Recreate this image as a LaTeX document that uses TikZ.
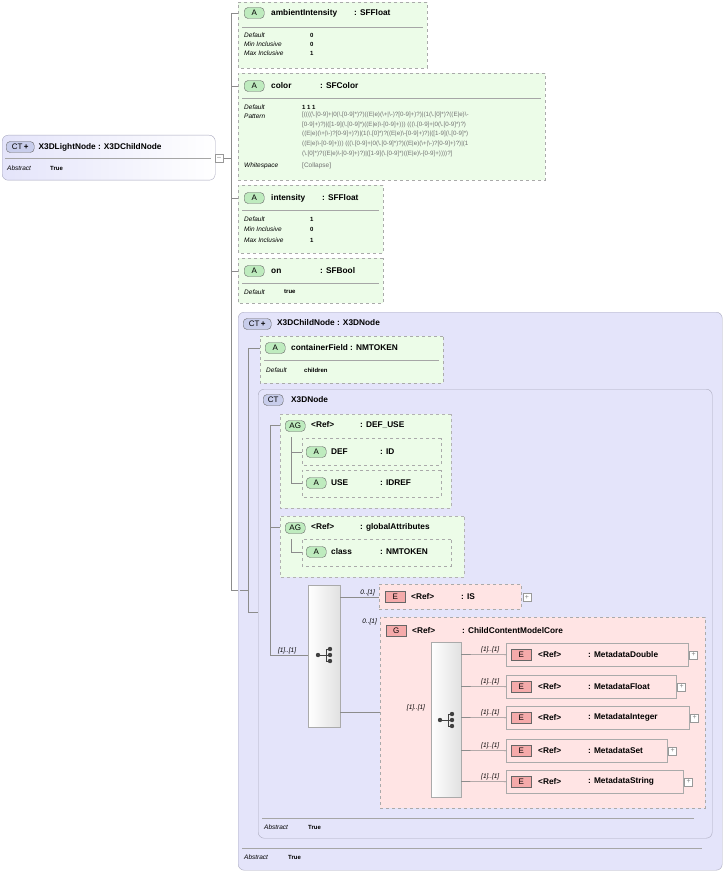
\documentclass[tikz,border=0pt]{standalone}
\usepackage{fontspec}
\setmainfont{Liberation Sans}
\usetikzlibrary{shapes.misc,positioning}
\definecolor{attrfill}{RGB}{236,252,232}
\definecolor{attrdraw}{RGB}{170,170,170}
\definecolor{ctfill}{RGB}{228,228,250}
\definecolor{ctdraw}{RGB}{170,170,190}
\definecolor{elfill}{RGB}{255,228,228}
\definecolor{bgreen}{RGB}{190,235,190}
\definecolor{bred}{RGB}{245,170,170}
\definecolor{bblue}{RGB}{200,205,235}
\definecolor{seqfill}{RGB}{225,225,225}
\tikzset{
  attrbox/.style={chamfered rectangle, chamfered rectangle corners={north west,south west},
    chamfered rectangle xsep=6pt, draw=attrdraw, dashed, fill=attrfill, anchor=north west, inner sep=0pt},
  ctbox/.style={rectangle, rounded corners=6pt, draw=ctdraw, fill=ctfill, anchor=north west, inner sep=0pt},
  elbox/.style={rectangle, draw=attrdraw, fill=elfill, anchor=north west, inner sep=0pt},
  seqbox/.style={rectangle, draw=attrdraw, left color=white, right color=seqfill, anchor=north west, inner sep=0pt},
  badge/.style={rectangle, rounded corners=4pt, draw=black!60, anchor=west, inner sep=1pt,
    minimum height=11pt, minimum width=20pt, font=\fontsize{8}{8}\selectfont},
  title/.style={anchor=west, inner sep=0pt, font=\bfseries\fontsize{8.3}{9}\selectfont},
  key/.style={anchor=west, inner sep=0pt, font=\itshape\fontsize{6.5}{7}\selectfont},
  val/.style={anchor=west, inner sep=0pt, font=\bfseries\fontsize{6}{6}\selectfont},
  card/.style={anchor=south, inner sep=1pt, font=\itshape\fontsize{6.5}{7}\selectfont},
  plusbox/.style={rectangle, draw=black!40, fill=white, minimum size=8pt, inner sep=0pt,
    font=\fontsize{7}{7}\selectfont, text=black!50},
  link/.style={draw=black!45, line width=0.6pt},
  seqicon/.pic={
    \fill[black!75] (-8,0) circle (2.2pt) (4,-6) circle (2.2pt) (4,0) circle (2.2pt) (4,6) circle (2.2pt);
    \draw[black!75, line width=0.8pt] (-8,0) -- (0,0) (0,-6) -- (0,6) (0,-6) -- (4,-6) (0,6) -- (4,6) (0,0) -- (4,0);
  },
}
\begin{document}
\begin{tikzpicture}[x=1pt, y=-1pt]
\useasboundingbox (0,0) rectangle (726,874);

% outer tree
\draw[link] (231,13) -- (231,590);
\foreach \yy in {13,86,198,271} \draw[link] (231,\yy) -- (238,\yy);
\draw[link] (224,158) -- (231,158);
\draw[link] (231,590) -- (240,590);

% root complex type
\node[ctbox, minimum width=213pt, minimum height=45pt, left color=ctfill, right color=white] (root) at (2,135) {};
\node[badge, fill=bblue, minimum width=28pt] (rootbadge) at (6,147) {CT\,\textbf{+}};
\node[title, right=4pt of rootbadge] (roottitle) {X3DLightNode : X3DChildNode};
\draw[black!35] (5,158) -- (211,158);
\node[key] (rootabs) at (7,168) {Abstract};
\node[val] (rootabsv) at (50,168) {True};
\node[plusbox] (rootminus) at (219,158) {--};

% attribute ambientIntensity
\node[attrbox, minimum width=189pt, minimum height=66pt] (amb) at (238,2) {};
\node[badge, fill=bgreen] (ambbadge) at (244,13) {A};
\node[title] (ambname) at (271,13) {ambientIntensity};
\node[title] (ambtype) at (354,13) {: SFFloat};
\draw[black!35] (242,27) -- (423,27);
\node[key] at (244,35) {Default};
\node[key] at (244,44) {Min Inclusive};
\node[key] at (244,53) {Max Inclusive};
\node[val] at (310,35) {0};
\node[val] at (310,44) {0};
\node[val] at (310,53) {1};

% attribute color
\node[attrbox, minimum width=307pt, minimum height=107pt] (col) at (238,73) {};
\node[badge, fill=bgreen] (colbadge) at (244,86) {A};
\node[title] (colname) at (271,86) {color};
\node[title] (coltype) at (320,86) {: SFColor};
\draw[black!35] (242,98) -- (541,98);
\node[key] at (244,107) {Default};
\node[key] at (244,116) {Pattern};
\node[key] at (244,166) {Whitespace};
\node[val] at (302,107) {1 1 1};
\node[anchor=north west, inner sep=0pt, text=black!55, font=\fontsize{6.2}{9.6}\selectfont, align=left] (colpat) at (302,112)
  {\detokenize{[((((\.[0-9]+|0(\.[0-9]*)?)((E|e)(\+|\-)?[0-9]+)?)|(1(\.[0]*)?((E|e)\-}\\
   \detokenize{[0-9]+)?)|([1-9](\.[0-9]*)((E|e)\-[0-9]+))) (((\.[0-9]+|0(\.[0-9]*)?)}\\
   \detokenize{((E|e)(\+|\-)?[0-9]+)?)|(1(\.[0]*)?((E|e)\-[0-9]+)?)|([1-9](\.[0-9]*)}\\
   \detokenize{((E|e)\-[0-9]+))) (((\.[0-9]+|0(\.[0-9]*)?)((E|e)(\+|\-)?[0-9]+)?)|(1}\\
   \detokenize{(\.[0]*)?((E|e)\-[0-9]+)?)|([1-9](\.[0-9]*)((E|e)\-[0-9]+))))?]}};
\node[key, font=\fontsize{6.5}{7}\selectfont, text=black!55] at (302,166) {[Collapse]};

% attribute intensity
\node[attrbox, minimum width=145pt, minimum height=68pt] (int) at (238,185) {};
\node[badge, fill=bgreen] (intbadge) at (244,198) {A};
\node[title] (intname) at (271,198) {intensity};
\node[title] (inttype) at (322,198) {: SFFloat};
\draw[black!35] (242,210) -- (379,210);
\node[key] at (244,219) {Default};
\node[key] at (244,229) {Min Inclusive};
\node[key] at (244,240) {Max Inclusive};
\node[val] at (310,219) {1};
\node[val] at (310,229) {0};
\node[val] at (310,240) {1};

% attribute on
\node[attrbox, minimum width=145pt, minimum height=45pt] (on) at (238,258) {};
\node[badge, fill=bgreen] (onbadge) at (244,271) {A};
\node[title] (onname) at (271,271) {on};
\node[title] (ontype) at (320,271) {: SFBool};
\draw[black!35] (242,283) -- (379,283);
\node[key] at (244,292) {Default};
\node[val] at (284,292) {true};

% base X3DChildNode
\node[ctbox, minimum width=484pt, minimum height=558pt] (child) at (238,312) {};
\node[badge, fill=bblue, minimum width=28pt] (childbadge) at (243,324) {CT\,\textbf{+}};
\node[title] (childtitle) at (277,323) {X3DChildNode : X3DNode};
\draw[black!35] (242,848) -- (702,848);
\node[key] at (244,857) {Abstract};
\node[val] at (288,857) {True};
\draw[link] (240,590) -- (248,590);
\draw[link] (248,348) -- (248,612);
\draw[link] (248,348) -- (260,348);
\draw[link] (248,612) -- (258,612);

% containerField
\node[attrbox, minimum width=183pt, minimum height=47pt] (cf) at (260,336) {};
\node[badge, fill=bgreen] (cfbadge) at (265,348) {A};
\node[title] (cfname) at (291,348) {containerField : NMTOKEN};
\draw[black!35] (264,360) -- (439,360);
\node[key] at (266,370) {Default};
\node[val] at (304,370) {children};

% X3DNode
\node[ctbox, minimum width=454pt, minimum height=449pt] (node) at (258,389) {};
\node[badge, fill=bblue] (nodebadge) at (263,400) {CT};
\node[title] (nodetitle) at (291,400) {X3DNode};
\draw[black!35] (262,818) -- (694,818);
\node[key] at (264,827) {Abstract};
\node[val] at (308,827) {True};
\draw[link] (270,425) -- (270,655);
\draw[link] (270,425) -- (280,425);
\draw[link] (270,527) -- (280,527);

% DEF_USE group
\node[attrbox, dashed=false, draw=black!30, minimum width=171pt, minimum height=94pt] (du) at (280,414) {};
\node[badge, fill=bgreen] (dubadge) at (285,426) {AG};
\node[title] (duname) at (311,425) {<Ref>};
\node[title] (dutype) at (360,425) {: DEF\_USE};
\draw[link] (291,437) -- (291,483);
\draw[link] (291,452) -- (302,452);
\draw[link] (291,483) -- (302,483);
\node[attrbox, minimum width=139pt, minimum height=27pt] (def) at (302,438) {};
\node[badge, fill=bgreen] (defbadge) at (306,452) {A};
\node[title] (defname) at (331,452) {DEF};
\node[title] (deftype) at (380,452) {: ID};
\node[attrbox, minimum width=139pt, minimum height=27pt] (use) at (302,470) {};
\node[badge, fill=bgreen] (usebadge) at (306,483) {A};
\node[title] (usename) at (331,483) {USE};
\node[title] (usetype) at (380,483) {: IDREF};

% globalAttributes group
\node[attrbox, dashed=false, draw=black!30, minimum width=184pt, minimum height=61pt] (ga) at (280,516) {};
\node[badge, fill=bgreen] (gabadge) at (285,528) {AG};
\node[title] (ganame) at (311,527) {<Ref>};
\node[title] (gatype) at (360,527) {: globalAttributes};
\draw[link] (291,539) -- (291,552) -- (302,552);
\node[attrbox, minimum width=149pt, minimum height=27pt] (cls) at (302,539) {};
\node[badge, fill=bgreen] (clsbadge) at (306,552) {A};
\node[title] (clsname) at (331,552) {class};
\node[title] (clstype) at (380,552) {: NMTOKEN};

% outer sequence
\node[seqbox, minimum width=32pt, minimum height=142pt] (seq) at (308,585) {};
\pic at (326,655) {seqicon};
\draw[link] (270,655) -- node[card, pos=0.45] {[1]..[1]} (seq.west |- 0,655);
\draw[link] (340,597) -- (379,597);
\draw[link] (340,712) -- (431,712);

% IS element
\node[elbox, dashed, minimum width=142pt, minimum height=25pt] (is) at (379,584) {};
\node[card, anchor=south east] at (376,597) {0..[1]};
\node[badge, fill=bred, rounded corners=0pt] (isbadge) at (385,597) {E};
\node[title] (isname) at (411,597) {<Ref>};
\node[title] (istype) at (461,597) {: IS};
\node[plusbox] at (527,597) {+};

% ChildContentModelCore group
\node[elbox, dashed, minimum width=325pt, minimum height=191pt] (core) at (380,617) {};
\node[card, anchor=south east] at (378,626) {0..[1]};
\node[badge, fill=bred, rounded corners=0pt] (corebadge) at (386,631) {G};
\node[title] (corename) at (412,631) {<Ref>};
\node[title] (coretype) at (462,631) {: ChildContentModelCore};
\node[card, anchor=south] at (416,712) {[1]..[1]};

\node[seqbox, minimum width=30pt, minimum height=155pt] (seqb) at (431,642) {};
\pic at (448,720) {seqicon};

\foreach \nm/\yy/\ww in {MetadataDouble/643/182, MetadataFloat/675/170, MetadataInteger/706/183,
                         MetadataSet/739/161, MetadataString/770/177} {
  \node[elbox, minimum width=\ww pt, minimum height=23pt] (\nm) at (506,\yy) {};
  \draw[link] (461,\yy+11.5) -- node[card, pos=0.65] {[1]..[1]} (\nm.west);
  \node[badge, fill=bred, rounded corners=0pt] at (511,\yy+11.5) {E};
  \node[title] at (538,\yy+11.5) {<Ref>};
  \node[title] at (588,\yy+11.5) {: \nm};
  \node[plusbox, right=1pt of \nm.east] {+};
}
\end{tikzpicture}
\end{document}
